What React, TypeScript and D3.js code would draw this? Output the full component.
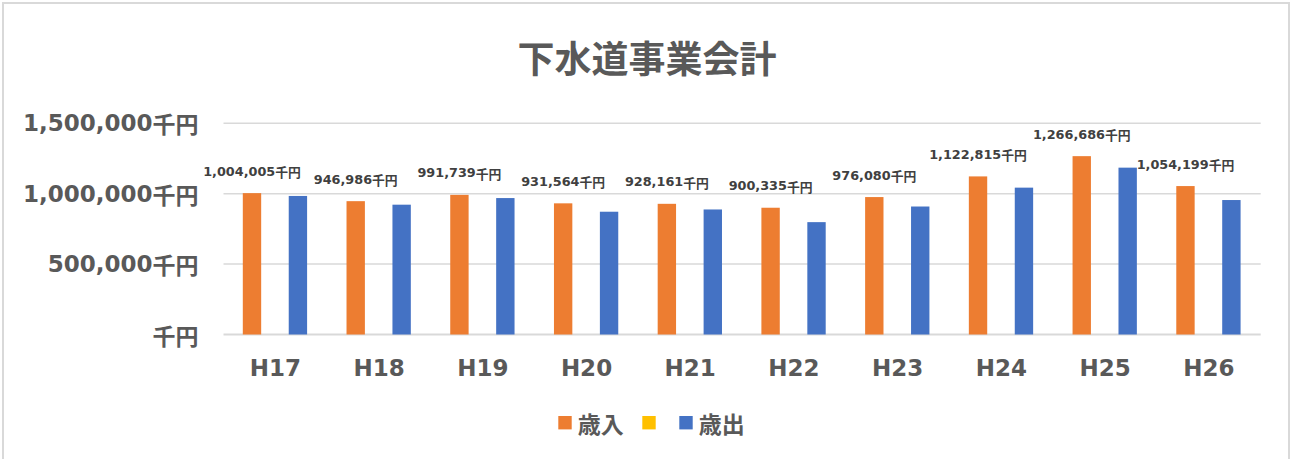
import React from "react";
import * as d3 from "d3";

const categories = ["H17", "H18", "H19", "H20", "H21", "H22", "H23", "H24", "H25", "H26"];
const revenue = [1004005, 946986, 991739, 931564, 928161, 900335, 976080, 1122815, 1266686, 1054199];
const expenditure = [984000, 922000, 969000, 872000, 888000, 798000, 909000, 1043000, 1185000, 955000];
const yTicks = [0, 500000, 1000000, 1500000];
const seriesNames = ["歳入", "", "歳出"];
const seriesColors = ["#ED7D31", "#FFC000", "#4472C4"];

const W = 1290;
const H = 459;
const plotLeft = 223.5;
const plotRight = 1260.7;
const plotTop = 123.3;
const plotBottom = 334.5;

const latin = "'DejaVu Sans', 'Noto Sans CJK JP', sans-serif";
const cjk = "'Noto Sans CJK JP', 'DejaVu Sans', sans-serif";

const fmt = d3.format(",");

export default function App() {
  const x = d3.scaleBand<string>().domain(categories).range([plotLeft, plotRight]).paddingInner(0).paddingOuter(0);
  const inner = d3
    .scaleBand<string>()
    .domain(["0", "1", "2"])
    .range([19.3, 83.6])
    .paddingInner(0.2)
    .paddingOuter(0);
  const y = d3.scaleLinear().domain([0, 1500000]).range([plotBottom, plotTop]);

  const series = [revenue, null, expenditure];

  return (
    <svg
      width={W}
      height={H}
      style={{ position: "absolute", left: 0, top: 0, background: "#fff" }}
    >
      <rect x={3} y={3} width={1286} height={470} fill="#fff" stroke="#d9d9d9" strokeWidth={2} />
      <text
        x={647}
        y={57}
        textAnchor="middle"
        dominantBaseline="central"
        fontFamily={cjk}
        fontWeight="bold"
        fontSize={37}
        fill="#595959"
      >
        下水道事業会計
      </text>
      {yTicks.map((t) => (
        <g key={t}>
          <line x1={plotLeft} x2={plotRight} y1={y(t)} y2={y(t)} stroke="#d9d9d9" strokeWidth={t === 0 ? 2 : 1.5} />
          <text
            x={198.5}
            y={y(t)}
            textAnchor="end"
            dominantBaseline="central"
            fontFamily={latin}
            fontWeight="bold"
            fontSize={23}
            fill="#595959"
          >
            {t === 0 ? "" : fmt(t)}
            <tspan fontFamily={cjk}>千円</tspan>
          </text>
        </g>
      ))}
      {categories.map((c, i) => (
        <g key={c}>
          {series.map((s, si) =>
            s ? (
              <rect
                key={si}
                x={(x(c) as number) + (inner(String(si)) as number)}
                y={y(s[i])}
                width={inner.bandwidth()}
                height={y(0) - y(s[i])}
                fill={seriesColors[si]}
              />
            ) : null
          )}
          <text
            x={(x(c) as number) + (inner("0") as number) + inner.bandwidth() / 2}
            y={y(revenue[i]) - 22}
            textAnchor="middle"
            dominantBaseline="central"
            fontFamily={latin}
            fontWeight="bold"
            fontSize={12.8}
            fill="#404040"
          >
            {fmt(revenue[i])}
            <tspan fontFamily={cjk}>千円</tspan>
          </text>
          <text
            x={(x(c) as number) + x.bandwidth() / 2}
            y={368}
            textAnchor="middle"
            dominantBaseline="central"
            fontFamily={latin}
            fontWeight="bold"
            fontSize={23}
            fill="#595959"
          >
            {c}
          </text>
        </g>
      ))}
      {seriesNames.map((n, si) => {
        const xs = [558.3, 642.3, 679.3][si];
        return (
          <g key={si}>
            <rect x={xs} y={416} width={13.4} height={13.4} fill={seriesColors[si]} />
            {n ? (
              <text
                x={xs + 19.5}
                y={422.7}
                dominantBaseline="central"
                fontFamily={cjk}
                fontWeight="bold"
                fontSize={23}
                fill="#595959"
              >
                {n}
              </text>
            ) : null}
          </g>
        );
      })}
    </svg>
  );
}
